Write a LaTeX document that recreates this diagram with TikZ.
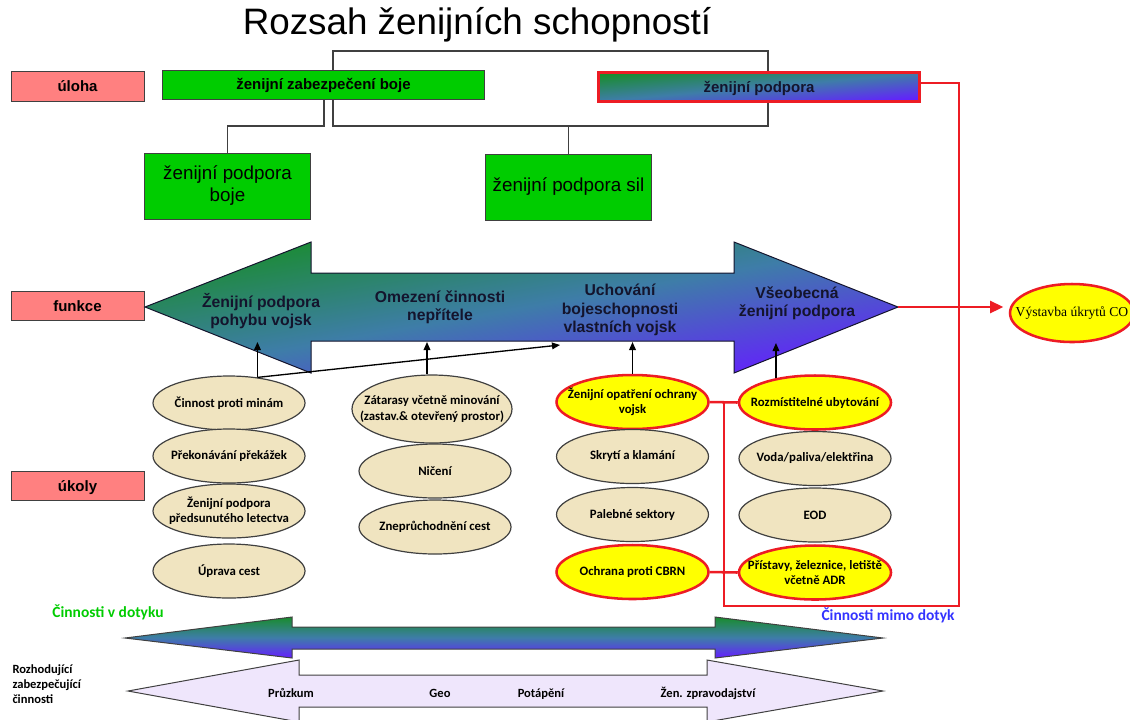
\documentclass[tikz,border=0pt]{standalone}
\usepackage{fontspec}
\setmainfont{Liberation Sans}
\newfontfamily\calibrifont{Carlito}
\newfontfamily\timesfont{Liberation Serif}
\usetikzlibrary{shapes.geometric,arrows.meta}

\definecolor{rowpink}{RGB}{255,128,128}
\definecolor{boxgreen}{RGB}{0,204,0}
\definecolor{ellbeige}{RGB}{240,228,192}
\definecolor{ellyellow}{RGB}{255,255,0}
\definecolor{linered}{RGB}{237,28,36}
\definecolor{gradgreen}{RGB}{25,140,45}
\definecolor{gradteal}{RGB}{62,125,168}
\definecolor{gradviolet}{RGB}{100,30,255}
\definecolor{arrlavender}{RGB}{239,230,252}
\definecolor{edgegray}{RGB}{64,64,64}
\definecolor{textnavy}{RGB}{20,20,45}
\definecolor{contactgreen}{RGB}{0,204,0}
\definecolor{remoteblue}{RGB}{51,51,255}

\tikzset{every picture/.style={line width=0.75pt}}
\tikzset{
  oneline/.style={text height=9.5pt, text depth=1.5pt},
  rowlabel/.style={draw=edgegray, fill=rowpink, minimum width=99.75pt, minimum height=22pt, inner sep=0.75pt, oneline, font=\fontsize{11.25}{13.5}\selectfont\bfseries},
  greenbox/.style={draw=edgegray, fill=boxgreen, inner sep=0.75pt, align=center},
  taskbar/.style={draw=edgegray, fill=boxgreen, inner sep=0.75pt, minimum width=241.5pt, minimum height=21.75pt, oneline, font=\fontsize{11.25}{13.5}\selectfont\bfseries},
  gradfill/.style={top color=gradgreen, bottom color=gradviolet, middle color=gradteal},
  gradbox/.style={gradfill, shading angle=5, draw=linered, line width=1.9pt, minimum width=241pt, minimum height=21.5pt, inner sep=0.75pt, oneline, font=\fontsize{11.25}{13.5}\selectfont\bfseries, text=textnavy},
  funtext/.style={align=center, text=textnavy, font=\fontsize{11.8}{13.7}\selectfont\bfseries, inner sep=0.75pt},
  taskell/.style={ellipse, draw=edgegray, fill=ellbeige, line width=0.9pt, minimum width=114pt, minimum height=40.5pt, inner sep=0pt},
  keyell/.style={taskell, draw=linered, fill=ellyellow, line width=1.9pt},
  elltext/.style={align=center, font=\calibrifont\bfseries\fontsize{9.6}{11.5}\selectfont, inner sep=0pt},
  orgline/.style={draw=edgegray, line width=1.1pt},
  uparrow/.style={draw=black, line width=1pt, -{Triangle[length=6pt,width=5pt]}},
  redline/.style={draw=linered, line width=1.9pt},
  redarrow/.style={redline, -{Triangle[length=10pt,width=9pt]}},
  actlabel/.style={font=\calibrifont\bfseries\fontsize{11.6}{14}\selectfont, inner sep=0.75pt},
  zabtext/.style={font=\calibrifont\bfseries\fontsize{9.4}{11.25}\selectfont, inner sep=0.75pt},
}

\begin{document}
\begin{tikzpicture}[x=0.75pt,y=0.75pt,yscale=-1,xscale=1]
\useasboundingbox (0,0) rectangle (1130,719);

% Text Node
\node[font=\fontsize{27.6}{33}\selectfont, inner sep=0.75pt] (title) at (477,25) {Rozsah ženijních schopností};

%Shape: Rectangle
\node[rowlabel] (uloha) at (77.5,86.5) {úloha};
\node[rowlabel] (funkce) at (77.5,306) {funkce};
\node[rowlabel] (ukoly) at (77.5,486) {úkoly};

%Shape: Rectangle
\node[taskbar] (zab) at (323.5,84.5) {ženijní zabezpečení boje};
\node[gradbox] (podp) at (759,87) {ženijní podpora};
\node[greenbox, minimum width=125pt, minimum height=49.5pt, font=\fontsize{14.1}{16.5}\selectfont] (podpboje) at (227.5,186) {ženijní podpora\\boje};
\node[greenbox, minimum width=125pt, minimum height=49.5pt, font=\fontsize{14.1}{16.5}\selectfont] (podpsil) at (568.5,187) {ženijní podpora sil};

%Straight Lines
\coordinate (jA) at (333,51);
\coordinate (jB) at (768,51);
\coordinate (jC) at (333,126);
\coordinate (jD) at (768,126);
\coordinate (jL) at (324,126);
\draw[orgline] (jA |- zab.north) -- (jA) -- (jB) -- (jB |- podp.north);
\draw[orgline] (jB |- podp.south) -- (jD) -- (jC) -- (jC |- zab.south);
\draw[orgline] (jL |- zab.south) -- (jL) -| (podpboje.north);
\draw[orgline] (podpsil.north |- jC) -- (podpsil.north);

%Shape: Double Arrow
\draw[gradfill, shading angle=10, draw=textnavy] (145,307) -- (311,242) -- (311,273) -- (734,273) -- (734,242) -- (898,307) coordinate (tipR) -- (734,373) -- (734,341) -- (311,341) -- (311,373) -- cycle;

% Text Node
\node[funtext] (fpohyb) at (261,311) {Ženijní podpora\\pohybu vojsk};
\node[funtext] (fomez) at (440,307) {Omezení činnosti\\nepřítele};
\node[funtext] (fuchov) at (620,310) {Uchování\\bojeschopnosti\\vlastních vojsk};
\node[funtext] (fvseob) at (797,303) {Všeobecná\\ženijní podpora};

%Shape: Ellipse
\node[taskell, label={[elltext]center:Činnost proti minám}] (e11) at (229,403) {};
\node[taskell, label={[elltext]center:Překonávání překážek}] (e12) at (229,456) {};
\node[taskell, label={[elltext]center:{Ženijní podpora\\předsunutého letectva}}] (e13) at (229,511) {};
\node[taskell, label={[elltext]center:Úprava cest}] (e14) at (229,571) {};

\node[taskell, minimum width=120pt, minimum height=51pt, label={[elltext]center:{Zátarasy včetně minování\\(zastav.\& otevřený prostor)}}] (e21) at (432,409) {};
\node[taskell, label={[elltext]center:Ničení}] (e22) at (435,471) {};
\node[taskell, label={[elltext]center:Zneprůchodnění cest}] (e23) at (435,527) {};

\node[keyell, label={[elltext]center:{Ženijní opatření ochrany\\vojsk}}] (e31) at (632.5,402) {};
\node[taskell, label={[elltext]center:Skrytí a klamání}] (e32) at (632.5,456.5) {};
\node[taskell, label={[elltext]center:Palebné sektory}] (e33) at (632.5,514.5) {};
\node[keyell, label={[elltext]center:Ochrana proti CBRN}] (e34) at (632.5,572) {};

\node[keyell, label={[elltext]center:Rozmístitelné ubytování}] (e41) at (815,402.5) {};
\node[taskell, label={[elltext]center:Voda/paliva/elektřina}] (e42) at (815,458.5) {};
\node[taskell, label={[elltext]center:EOD}] (e43) at (815,515) {};
\node[keyell, label={[elltext]center:{Přístavy, železnice, letiště\\včetně ADR}}] (e44) at (815,572.5) {};

\node[keyell, minimum width=93pt, minimum height=43.5pt, label={[font=\timesfont\fontsize{10.2}{12}\selectfont]center:Výstavba úkrytů CO}] (vyst) at (1072,313) {};

%Straight Lines
\coordinate (f1) at (257,342);
\coordinate (f2) at (427,342);
\coordinate (f3) at (631,342);
\coordinate (f4) at (777,343);
\coordinate (f5) at (560,345);
\draw[uparrow] (e11.42) -- (e11.42 |- f1);
\draw[uparrow] (e11.42) -- (f5);
\draw[uparrow] (e21.north -| f2) -- (f2);
\draw[uparrow] (e31.north) -- (e31.north |- f3);
\draw[uparrow] (e41.148) -- (e41.148 |- f4);

%Straight Lines
\coordinate (rTop) at (959,83);
\coordinate (rBot) at (724,606);
\draw[redline] (podp.east |- rTop) -- (rTop) |- (rBot) -- (rBot |- e31.east);
\draw[redline] (e31.east) -- (e41.west);
\draw[redline] (e34.east) -- (e44.west);
\draw[redarrow, shorten >=4pt] (tipR) -- (vyst.west |- tipR);

% Text Node
\node[actlabel, text=contactgreen] (vdotyku) at (108,612) {Činnosti v dotyku};
\node[actlabel, text=remoteblue] (mimodotyk) at (888,615) {Činnosti mimo dotyk};
\node[zabtext, anchor=west, align=left] (rozhod) at (11,684) {Rozhodující\\zabezpečující\\činnosti};

%Shape: Double Arrow
\draw[gradfill, draw=edgegray] (125,638) -- (292,617) -- (292,627) -- (715,627) -- (715,617) -- (883,638) -- (715,658) -- (715,649) -- (292,649) -- (292,658) -- cycle;
\draw[fill=arrlavender, draw=edgegray] (128,691) -- (299,660) -- (299,675) -- (707,675) -- (707,660) -- (883,691) -- (707,722) -- (707,707) -- (299,707) -- (299,722) -- cycle;

% Text Node
\node[zabtext, oneline] (pruzkum) at (291,692) {Průzkum};
\node[zabtext, oneline] (geo) at (440,692) {Geo};
\node[zabtext, oneline] (potapeni) at (541,692) {Potápění};
\node[zabtext, oneline] (zpravod) at (708,692) {Žen. zpravodajství};

\end{tikzpicture}
\end{document}
